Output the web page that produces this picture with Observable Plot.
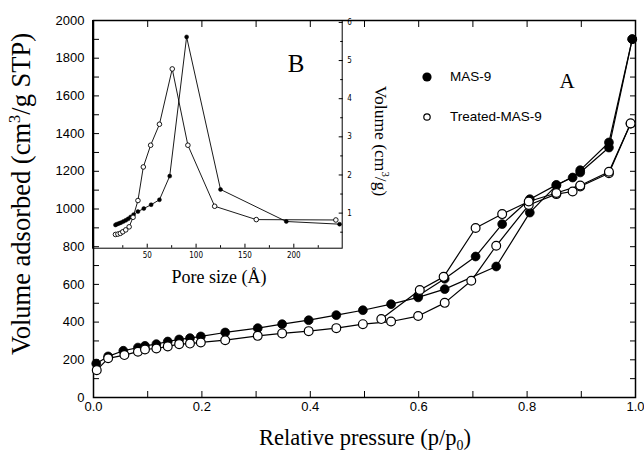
<!DOCTYPE html>
<html><head><meta charset="utf-8">
<script src="https://cdn.jsdelivr.net/npm/d3@7"></script>
<script src="https://cdn.jsdelivr.net/npm/@observablehq/plot@0.6"></script>
<style>
body{margin:0;background:white;}
#wrap{position:relative;width:644px;height:455px;overflow:hidden;background:white;}
#wrap svg{position:absolute;left:0;top:0;}
.lab{position:absolute;white-space:nowrap;color:black;line-height:1;}
.serif{font-family:"Liberation Serif","Times New Roman",serif;}
.sans{font-family:"Liberation Sans",Arial,sans-serif;}
sup,sub{font-size:62%;line-height:0;}
</style></head>
<body><div id="wrap"></div>
<script>
// ---- main isotherm data (relative pressure p/p0, volume cm3/g STP) ----
const mas9AdsP = [0.005,0.027,0.055,0.082,0.095,0.116,0.137,0.158,0.178,0.198,0.243,0.303,0.348,0.397,0.448,0.497,0.549,0.599,0.648,0.743,0.805,0.854,0.898,0.951,0.994];
const mas9AdsV = [180,218,248,265,274,283,297,308,315,324,345,368,389,410,437,463,495,531,575,695,981,1125,1194,1326,1901];
const mas9DesP = [0.994,0.951,0.898,0.884,0.854,0.805,0.754,0.705,0.648,0.599];
const mas9DesV = [1901,1353,1206,1167,1128,1052,920,748,630,540];
const trtAdsP = [0.006,0.027,0.057,0.082,0.095,0.116,0.137,0.158,0.178,0.198,0.243,0.303,0.348,0.397,0.448,0.497,0.549,0.599,0.648,0.697,0.743,0.803,0.854,0.884,0.898,0.951,0.991];
const trtAdsV = [145,208,225,243,255,260,271,283,286,292,304,327,340,352,368,389,403,432,502,619,805,1021,1079,1093,1119,1190,1454];
const trtDesP = [0.991,0.951,0.898,0.854,0.803,0.754,0.705,0.646,0.602,0.531];
const trtDesV = [1454,1198,1125,1085,1040,973,899,640,570,416];
// ---- inset pore size distribution (pore size A, volume cm3/g) ----
const psdMasX = [17.5,19,21,23,25.5,28,30.5,33,36,40.5,46.5,54,62.5,73,90.3,125,192.3,246.8];
const psdMasY = [0.69,0.71,0.73,0.75,0.78,0.81,0.85,0.90,0.96,1.04,1.12,1.22,1.35,1.97,5.62,1.62,0.78,0.71];
const psdTrtX = [17.5,20,22.5,25,28,31.5,35.5,40.5,46,53.5,62.5,75.6,91.6,119,161.6,243];
const psdTrtY = [0.44,0.45,0.47,0.51,0.56,0.64,0.89,1.33,2.21,2.78,3.33,4.78,2.78,1.18,0.83,0.82];
// ---- ticks ----
const xMajor = [0,0.2,0.4,0.6,0.8,1.0];
const xMinor = [0,0.1,0.2,0.3,0.4,0.5,0.6,0.7,0.8,0.9,1.0];
const yMajor = [0,200,400,600,800,1000,1200,1400,1600,1800,2000];
const yMinor = d3.range(0,2001,100);
const ixMajor = [50,100,150,200];
const ixMinor = [25,75,125,175,225];
const iyMajor = [1,2,3,4,5,6];
const iyMinor = [0.5,1.5,2.5,3.5,4.5,5.5];

const zip = (xs, ys, series) => xs.map((x,i)=>({x, y: ys[i], series}));
const mas9 = zip(mas9AdsP, mas9AdsV, "ads");
const mas9Des = zip(mas9DesP, mas9DesV, "des");
const trt = zip(trtAdsP, trtAdsV, "ads");
const trtDes = zip(trtDesP, trtDesV, "des");

const main = Plot.plot({
  width: 644, height: 455,
  marginLeft: 93, marginRight: 9, marginTop: 20, marginBottom: 58,
  x: {domain: [0, 1]},
  y: {domain: [0, 2000]},
  style: {fontFamily: '"Liberation Sans", Arial, sans-serif', fontSize: "13px", background: "white", color: "black", overflow: "visible"},
  marks: [
    Plot.axisX({anchor: "bottom", ticks: xMinor, tickSize: -6, fill: "none", label: null}),
    Plot.axisX({anchor: "top", ticks: xMinor, tickSize: -6, fill: "none", label: null}),
    Plot.axisX({anchor: "bottom", ticks: xMajor, tickSize: 0, tickPadding: 4, tickFormat: d3.format(".1f"), label: null, fontSize: 13}),
    Plot.axisY({anchor: "left", ticks: yMinor, tickSize: -6, fill: "none", label: null}),
    Plot.axisY({anchor: "right", ticks: yMinor, tickSize: -6, fill: "none", label: null}),
    Plot.axisY({anchor: "left", ticks: yMajor, tickSize: 0, tickPadding: 9, tickFormat: d3.format("d"), label: null, fontSize: 13}),
    Plot.frame({stroke: "black", strokeWidth: 1.5}),
    Plot.line(mas9, {x: "x", y: "y", stroke: "black", strokeWidth: 1.2}),
    Plot.line(mas9Des, {x: "x", y: "y", stroke: "black", strokeWidth: 1.2}),
    Plot.line(trt, {x: "x", y: "y", stroke: "black", strokeWidth: 1.2}),
    Plot.line(trtDes, {x: "x", y: "y", stroke: "black", strokeWidth: 1.2}),
    Plot.dot([...mas9, ...mas9Des], {x: "x", y: "y", r: 4.4, fill: "black", stroke: "black", strokeWidth: 0.8}),
    Plot.dot([...trt, ...trtDes], {x: "x", y: "y", r: 4.4, fill: "white", stroke: "black", strokeWidth: 1.2})
  ]
});

const psdMas = zip(psdMasX, psdMasY, "mas");
const psdTrt = zip(psdTrtX, psdTrtY, "trt");
const inset = Plot.plot({
  width: 644, height: 300,
  marginLeft: 92, marginRight: 302.3, marginTop: 20, marginBottom: 52.3,
  x: {domain: [-6, 249.5]},
  y: {domain: [0.08, 6.05]},
  style: {fontFamily: '"Liberation Sans Narrow","DejaVu Sans Condensed","Liberation Sans",sans-serif', fontSize: "8px", background: "transparent", color: "black", overflow: "visible"},
  marks: [
    Plot.axisX({anchor: "bottom", ticks: ixMajor, tickSize: -4, fill: "none", label: null}),
    Plot.axisX({anchor: "bottom", ticks: ixMinor, tickSize: -2.5, fill: "none", label: null}),
    Plot.axisX({anchor: "bottom", ticks: ixMajor, tickSize: 0, tickPadding: 4, tickFormat: d3.format("d"), label: null, fontSize: 8}),
    Plot.axisY({anchor: "right", ticks: iyMajor, tickSize: -4, fill: "none", label: null}),
    Plot.axisY({anchor: "right", ticks: iyMinor, tickSize: -2.5, fill: "none", label: null}),
    Plot.axisY({anchor: "right", ticks: iyMajor, tickSize: 0, tickPadding: 5, tickFormat: d3.format("d"), label: null, fontSize: 8}),
    Plot.frame({stroke: "black", strokeWidth: 1}),
    Plot.line(psdMas, {x: "x", y: "y", stroke: "black", strokeWidth: 0.9}),
    Plot.line(psdTrt, {x: "x", y: "y", stroke: "black", strokeWidth: 0.9}),
    Plot.dot(psdMas, {x: "x", y: "y", r: 2, fill: "black", stroke: "black", strokeWidth: 0.5}),
    Plot.dot(psdTrt, {x: "x", y: "y", r: 2.3, fill: "white", stroke: "black", strokeWidth: 0.9})
  ]
});

const wrap = document.getElementById("wrap");
wrap.appendChild(main);
wrap.appendChild(inset);

function label(html, cls, x, y, size, rot, left) {
  const d = document.createElement("div");
  d.className = "lab " + cls;
  d.innerHTML = html;
  d.style.fontSize = size + "px";
  d.style.left = x + "px";
  d.style.top = y + "px";
  d.style.transform = (left ? "translate(0,-50%)" : "translate(-50%,-50%)") + (rot ? ` rotate(${rot}deg)` : "");
  wrap.appendChild(d);
  return d;
}
label("Relative pressure (p/p<sub>0</sub>)", "serif", 365, 438, 22.5);
label("Volume adsorbed (cm<sup>3</sup>/g STP)", "serif", 21, 194, 26.5, -90);
label("Pore size (Å)", "serif", 219, 277, 18);
label("Volume (cm<sup>3</sup>/g)", "serif", 380, 141, 17.5, 90);
label("A", "serif", 567, 81, 21);
label("B", "serif", 296, 63, 25);
label("MAS-9", "sans", 450, 77, 13.5, 0, true);
label("Treated-MAS-9", "sans", 450, 117, 13.5, 0, true);

// legend symbols
const ns = "http://www.w3.org/2000/svg";
const ls = document.createElementNS(ns, "svg");
ls.setAttribute("width", 644); ls.setAttribute("height", 455);
ls.style.pointerEvents = "none";
const c1 = document.createElementNS(ns, "circle");
c1.setAttribute("cx", 427); c1.setAttribute("cy", 77); c1.setAttribute("r", 4.6); c1.setAttribute("fill", "black");
const c2 = document.createElementNS(ns, "circle");
c2.setAttribute("cx", 427); c2.setAttribute("cy", 117); c2.setAttribute("r", 3.2); c2.setAttribute("fill", "white"); c2.setAttribute("stroke", "black"); c2.setAttribute("stroke-width", 1.2);
ls.appendChild(c1); ls.appendChild(c2);
wrap.appendChild(ls);
</script></body></html>
